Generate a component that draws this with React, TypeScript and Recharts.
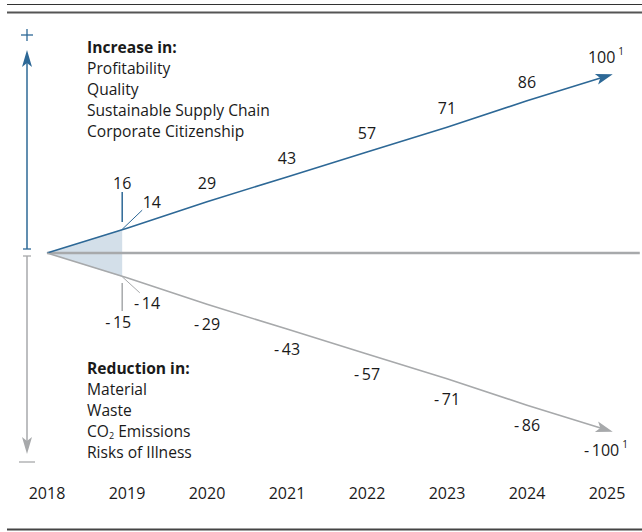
import React from "react";
import {
  ComposedChart,
  Line,
  Area,
  XAxis,
  YAxis,
  ReferenceLine,
  ReferenceDot,
  LabelList,
} from "recharts";

const years = [2018, 2019, 2020, 2021, 2022, 2023, 2024, 2025];
const increase = [0, 14, 29, 43, 57, 71, 86, 100];
const reduction = [0, -14, -29, -43, -57, -71, -86, -100];

// status mark shortly before 2019
const markYear = 2018.94;
const markShade = [0, 13.4];

const increaseItems = ["Profitability", "Quality", "Sustainable Supply Chain", "Corporate Citizenship"];
const reductionItems = ["Material", "Waste", "CO2 Emissions", "Risks of Illness"];

const BLUE = "#2d6896";
const GREY = "#a7a9ab";
const SHADE = "#d3dfe9";
const TEXT = "#1a1a1a";
const FONT = "'Open Sans', Lato, sans-serif";

const neg = (v: number) => `-\u2009${Math.abs(v)}`;

const rows = years.map((year, i) => ({ year, up: increase[i], down: reduction[i] }));
const shadeRows = [
  { year: 2018, band: [-markShade[0], markShade[0]] },
  { year: markYear, band: [-markShade[1], markShade[1]] },
];

// arrow head on the last point of a line
const arrowDot = (color: string) => (props: any) => {
  const { cx, cy, index, points } = props;
  if (index !== years.length - 1 || cx == null) return <g key={`d-${index}`} />;
  let ang = 0;
  if (points && points[index - 1]) {
    const p = points[index - 1];
    ang = Math.atan2(cy - p.y, cx - p.x);
  }
  const c = Math.cos(ang);
  const s = Math.sin(ang);
  const tx = cx + 6 * c;
  const ty = cy + 6 * s;
  const len = 17;
  const hw = 5.5;
  const bx = tx - len * c;
  const by = ty - len * s;
  const nx = tx - (len - 4) * c;
  const ny = ty - (len - 4) * s;
  const pts = [
    [tx, ty],
    [bx - hw * s, by + hw * c],
    [nx, ny],
    [bx + hw * s, by - hw * c],
  ]
    .map((p) => p.join(","))
    .join(" ");
  return <polygon key={`d-${index}`} points={pts} fill={color} />;
};

const valueLabel = (below: boolean) => (props: any) => {
  const { x, y, value, index } = props;
  if (index < 2) return null;
  const last = index === years.length - 1;
  const ly = below ? y + 20 : y - 19;
  const lx = last ? x - 1 : x;
  return (
    <text
      x={lx}
      y={ly}
      textAnchor="middle"
      dominantBaseline="central"
      fontSize={16}
      fontFamily={FONT}
      fill={TEXT}
    >
      {below ? neg(value) : value}
      {last && (
        <tspan fontSize={10} dx={3} dy={-6}>
          1
        </tspan>
      )}
    </text>
  );
};

const YearTick = (props: any) => {
  const { x, y, payload } = props;
  return (
    <text
      x={x}
      y={y + 55}
      textAnchor="middle"
      dominantBaseline="central"
      fontSize={16}
      fontFamily={FONT}
      fill={TEXT}
    >
      {payload.value}
    </text>
  );
};

const noteLabel = (text: string) => ({
  value: text,
  position: "center" as const,
  fontSize: 16,
  fontFamily: FONT,
  fill: TEXT,
});

function TextBlock({ title, items, x, y }: { title: string; items: string[]; x: number; y: number }) {
  return (
    <g fontFamily={FONT} fontSize={15.6} fill={TEXT}>
      <text x={x} y={y} fontWeight="bold">
        {title}
      </text>
      {items.map((it, i) => (
        <text key={it} x={x} y={y + 21 * (i + 1)}>
          {it === "CO2 Emissions" ? (
            <>
              CO
              <tspan fontSize={9} dy={2}>
                2
              </tspan>
              <tspan dy={-2}> Emissions</tspan>
            </>
          ) : (
            it
          )}
        </text>
      ))}
    </g>
  );
}

export default function App() {
  return (
    <div style={{ position: "fixed", left: 0, top: 0, width: 642, height: 532, background: "#fff" }}>
      <ComposedChart
        width={642}
        height={532}
        data={rows}
        margin={{ top: 76, right: 35, bottom: 42, left: 47 }}
      >
        <XAxis
          dataKey="year"
          type="number"
          domain={[2018, 2025]}
          ticks={years}
          axisLine={false}
          tickLine={false}
          height={60}
          tick={<YearTick />}
          interval={0}
        />
        <YAxis type="number" domain={[-100, 100]} hide />
        <Area
          data={shadeRows}
          dataKey="band"
          type="linear"
          stroke="none"
          fill={SHADE}
          fillOpacity={1}
          isAnimationActive={false}
        />
        <ReferenceLine
          segment={[
            { x: 2018, y: 0 },
            { x: 2025.41, y: 0 },
          ]}
          stroke={GREY}
          strokeWidth={2.5}
          ifOverflow="visible"
        />
        <Line
          dataKey="up"
          type="linear"
          stroke={BLUE}
          strokeWidth={1.6}
          dot={arrowDot(BLUE)}
          activeDot={false}
          isAnimationActive={false}
        >
          <LabelList dataKey="up" content={valueLabel(false)} />
        </Line>
        <Line
          dataKey="down"
          type="linear"
          stroke={GREY}
          strokeWidth={1.6}
          dot={arrowDot(GREY)}
          activeDot={false}
          isAnimationActive={false}
        >
          <LabelList dataKey="down" content={valueLabel(true)} />
        </Line>
        {/* status annotations */}
        <ReferenceLine
          segment={[
            { x: markYear, y: 17.5 },
            { x: markYear, y: 34.4 },
          ]}
          stroke={BLUE}
          strokeWidth={1.5}
        />
        <ReferenceLine
          segment={[
            { x: markYear, y: 13.4 },
            { x: 2019.19, y: 24.2 },
          ]}
          stroke={BLUE}
          strokeWidth={1}
        />
        <ReferenceLine
          segment={[
            { x: markYear, y: -17 },
            { x: markYear, y: -32.7 },
          ]}
          stroke={GREY}
          strokeWidth={1.5}
        />
        <ReferenceLine
          segment={[
            { x: markYear, y: -13.4 },
            { x: 2019.16, y: -22.5 },
          ]}
          stroke={GREY}
          strokeWidth={1}
        />
        <ReferenceDot x={markYear} y={39.4} r={0} stroke="none" label={noteLabel("16")} />
        <ReferenceDot x={2019.31} y={28.7} r={0} stroke="none" label={noteLabel("14")} />
        <ReferenceDot x={2018.89} y={-39.4} r={0} stroke="none" label={noteLabel(neg(-15))} />
        <ReferenceDot x={2019.25} y={-28.7} r={0} stroke="none" label={noteLabel(neg(-14))} />
      </ComposedChart>
      <svg
        width={642}
        height={532}
        style={{ position: "absolute", left: 0, top: 0, pointerEvents: "none" }}
      >
        {/* rules */}
        <line x1={7} x2={642} y1={4.5} y2={4.5} stroke="#333" strokeWidth={1.2} />
        <line x1={7} x2={642} y1={12.5} y2={12.5} stroke="#555" strokeWidth={2} />
        <line x1={7} x2={642} y1={529.5} y2={529.5} stroke="#444" strokeWidth={2} />
        {/* left scale */}
        <line x1={21} x2={33} y1={35} y2={35} stroke={BLUE} strokeWidth={1.3} />
        <line x1={27} x2={27} y1={29} y2={41} stroke={BLUE} strokeWidth={1.3} />
        <polygon points="27,50 32,67 27,63 22,67" fill={BLUE} />
        <line x1={27} x2={27} y1={60} y2={249} stroke={BLUE} strokeWidth={1.5} />
        <line x1={23} x2={31} y1={249} y2={249} stroke={BLUE} strokeWidth={1.3} />
        <line x1={23} x2={31} y1={256} y2={256} stroke={GREY} strokeWidth={1.3} />
        <line x1={27} x2={27} y1={256} y2={445} stroke={GREY} strokeWidth={1.5} />
        <polygon points="27,454 32,437 27,441 22,437" fill={GREY} />
        <line x1={19} x2={35} y1={462} y2={462} stroke={GREY} strokeWidth={1.3} />
        <TextBlock title="Increase in:" items={increaseItems} x={87} y={53} />
        <TextBlock title="Reduction in:" items={reductionItems} x={87} y={374} />
      </svg>
    </div>
  );
}
